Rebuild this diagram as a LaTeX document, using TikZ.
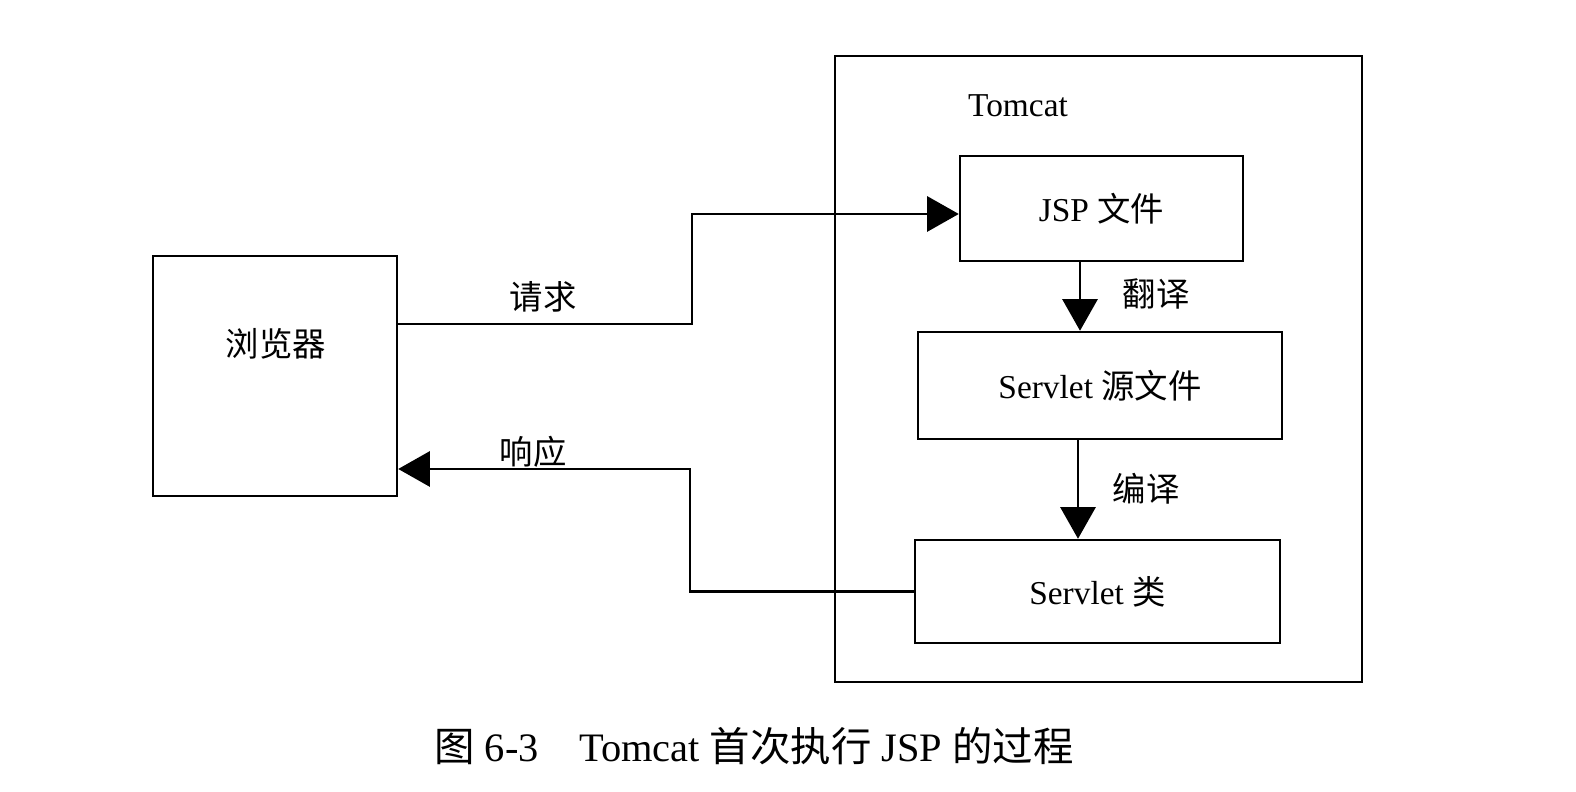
\documentclass[tikz,border=0pt]{standalone}
\usepackage{fontspec}
\setmainfont{Liberation Serif}
\newfontfamily\cjk{Noto Sans CJK SC}
\newcommand{\zh}[1]{{\cjk #1}}
\usetikzlibrary{arrows.meta, positioning}

\tikzset{
  box/.style={draw, line width=0.7pt, inner sep=0pt},
  arr/.style={line width=0.7pt, -{Triangle[length=9pt,width=10pt]}},
  lbl/.style={font=\fontsize{9.5}{11}\selectfont, inner sep=0pt}
}

\begin{document}
\begin{tikzpicture}[font=\fontsize{9.5}{11}\selectfont]
    \useasboundingbox (0,0) rectangle (15.76,7.92);
    % boxes
    \node[box, minimum width=2.44cm, minimum height=2.40cm] (browser) at (2.75,4.16) {};
    \node[lbl] (browsertxt) at (2.76,4.48) {\zh{浏览器}};
    \node[box, minimum width=5.27cm, minimum height=6.26cm] (tomcat) at (10.985,4.23) {};
    \node[lbl] (tomcattxt) at (10.18,6.86) {Tomcat};
    \node[box, minimum width=2.83cm, minimum height=1.05cm] (jsp) at (11.015,5.835) {JSP \zh{文件}};
    \node[box, minimum width=3.64cm, minimum height=1.07cm] (src) at (11.00,4.065) {Servlet \zh{源文件}};
    \node[box, minimum width=3.65cm, minimum height=1.03cm] (cls) at (10.975,2.005) {Servlet \zh{类}};
    % connectors
    \coordinate (reqbend) at (6.92,5.78);
    \coordinate (resbend) at (6.90,3.23);
    \draw[arr] (browser.east |- 0,4.68) -| (reqbend) -- (jsp.west |- reqbend);
    \draw[arr] (cls.west) -| (resbend) -- (browser.east |- resbend);
    \draw[arr] (jsp.south -| 10.80,0) -- (src.north -| 10.80,0);
    \draw[arr] (src.south -| 10.78,0) -- (cls.north -| 10.78,0);
    % labels
    \node[lbl] (reqlbl) at (5.43,4.95) {\zh{请求}};
    \node[lbl] (reslbl) at (5.33,3.40) {\zh{响应}};
    \node[lbl] (translbl) at (11.56,4.98) {\zh{翻译}};
    \node[lbl] (complbl) at (11.46,3.03) {\zh{编译}};
    \node[font=\fontsize{11.5}{13}\selectfont, inner sep=0pt] (caption) at (7.54,0.46)
        {\zh{图} 6-3\quad Tomcat \zh{首次执行} JSP \zh{的过程}};
\end{tikzpicture}
\end{document}
